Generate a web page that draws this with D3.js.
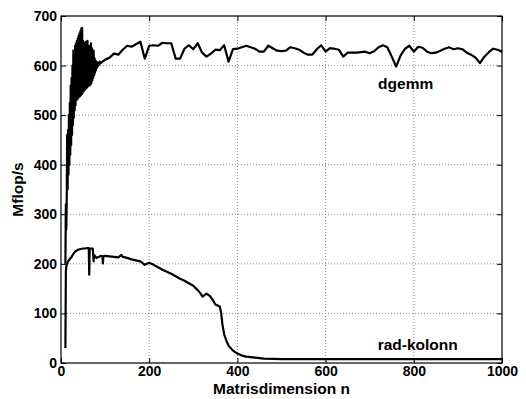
<!DOCTYPE html>
<html lang="sv">
<head>
    <meta charset="UTF-8">
    <title>Mflop/s mot matrisdimension</title>
    <script src="https://d3js.org/d3.v7.min.js"></script>
    <style>
        body {
            margin: 0;
            padding: 0;
            background: #fff;
        }
        svg text {
            font-family: "Liberation Sans", Arial, Helvetica, sans-serif;
            font-weight: bold;
            fill: #000;
        }
    </style>
</head>
<body>
    <div id="chart"></div>

    <script>
        // dgemm: tät start (n = 10..90), sedan var tionde n
        const dgemmN = [
            10, 11, 12, 13, 14, 15, 16, 17, 18, 19, 20, 21, 22, 23, 24, 25, 26, 27, 28, 29,
            30, 31, 32, 33, 34, 35, 36, 37, 38, 39, 40, 41, 42, 43, 44, 45, 46, 47, 48, 49,
            50, 51, 52, 53, 54, 55, 56, 57, 58, 59, 60, 61, 62, 63, 64, 65, 66, 67, 68, 69,
            70, 71, 72, 73, 74, 75, 76, 77, 78, 79, 80, 81, 82, 83, 84, 85, 86, 87, 88, 89,
            90, 100, 110, 120, 130, 140, 150, 160, 170, 180, 190, 200, 210, 220, 230, 240,
            250, 260, 270, 280, 290, 300, 310, 320, 330, 340, 350, 360, 370, 380, 390, 400,
            410, 420, 430, 440, 450, 460, 470, 480, 490, 500, 510, 520, 530, 540, 550, 560,
            570, 580, 590, 600, 610, 620, 630, 640, 650, 660, 670, 680, 690, 700, 710, 720,
            730, 740, 750, 760, 770, 780, 790, 800, 810, 820, 830, 840, 850, 860, 870, 880,
            890, 900, 910, 920, 930, 940, 950, 960, 970, 980, 990, 1000
        ];
        const dgemmMflops = [
            200, 320, 270, 330, 460, 350, 470, 380, 500, 400, 525, 420, 560, 440, 575, 460, 600, 480, 630, 495,
            625, 510, 640, 520, 645, 530, 650, 532, 655, 535, 660, 537, 665, 538, 670, 540, 675, 542, 676, 545,
            650, 548, 630, 550, 645, 552, 648, 554, 640, 556, 650, 558, 630, 560, 640, 560, 620, 562, 645, 565,
            635, 570, 625, 575, 630, 580, 615, 585, 610, 590, 608, 595, 605, 598, 606, 600, 604, 602, 608, 605,
            605, 612, 616, 624, 622, 632, 640, 638, 643, 648, 614, 640, 641, 640, 646, 645,
            645, 614, 614, 634, 641, 633, 645, 626, 618, 624, 632, 631, 641, 608, 633, 634,
            637, 640, 637, 634, 628, 628, 640, 635, 630, 629, 630, 637, 635, 632, 626, 622,
            622, 633, 641, 628, 635, 634, 632, 618, 626, 626, 626, 627, 628, 625, 629, 637,
            641, 637, 618, 598, 620, 634, 640, 628, 638, 636, 628, 625, 626, 630, 634, 637,
            633, 635, 633, 626, 622, 616, 605, 618, 627, 634, 632, 628
        ];

        // rad-kolonn
        const radN = [
            10, 11, 12, 14, 16, 20, 24, 28, 32, 36, 40, 45, 50, 55, 60, 63, 64, 65, 68, 70,
            72, 74, 75, 80, 85, 90, 94, 95, 96, 100, 110, 120, 130, 137, 140, 150, 160, 170, 180, 190,
            200, 210, 220, 230, 240, 250, 260, 270, 280, 290, 300, 310, 315, 321, 330, 338, 345, 350, 360, 363,
            366, 370, 375, 380, 390, 400, 410, 420, 440, 460, 480, 500, 550, 600, 650, 700, 750, 800, 850, 900,
            950, 1000
        ];
        const radMflops = [
            30, 185, 195, 200, 205, 210, 214, 220, 225, 227, 229, 230, 231, 231, 232, 232, 178, 230, 231, 231,
            231, 205, 218, 212, 214, 216, 215, 201, 215, 216, 215, 214, 213, 218, 214, 212, 209, 207, 205, 198,
            202, 198, 193, 188, 184, 180, 175, 170, 166, 161, 156, 147, 142, 134, 140, 135, 126, 118, 114, 102,
            78, 58, 45, 35, 25, 19, 15, 13, 11, 9, 8.5, 8, 8, 8, 8, 8, 8, 8, 8, 8,
            8, 8
        ];

        const xTicks = [0, 200, 400, 600, 800, 1000];
        const yTicks = [0, 100, 200, 300, 400, 500, 600, 700];

        const width = 526, height = 399;
        const margin = {top: 16, right: 24, bottom: 36, left: 61};
        const plotW = width - margin.left - margin.right;
        const plotH = height - margin.top - margin.bottom;

        const svg = d3.select('#chart')
            .append('svg')
            .attr('width', width)
            .attr('height', height);

        const g = svg.append('g')
            .attr('transform', `translate(${margin.left},${margin.top})`);

        const x = d3.scaleLinear().domain([0, 1000]).range([0, plotW]);
        const y = d3.scaleLinear().domain([0, 700]).range([plotH, 0]);

        // rutnät (prickat)
        const grid = g.append('g').attr('class', 'grid');
        grid.selectAll('line.vx')
            .data(xTicks.slice(1, -1))
            .enter().append('line')
            .attr('x1', d => x(d)).attr('x2', d => x(d))
            .attr('y1', 0).attr('y2', plotH);
        grid.selectAll('line.hy')
            .data(yTicks.slice(1, -1))
            .enter().append('line')
            .attr('x1', 0).attr('x2', plotW)
            .attr('y1', d => y(d)).attr('y2', d => y(d));
        grid.selectAll('line')
            .attr('stroke', '#8a8a8a')
            .attr('stroke-width', 1)
            .attr('stroke-dasharray', '1,2');

        // kurvor
        const line = d3.line()
            .x(d => x(d[0]))
            .y(d => y(d[1]));

        const series = [
            d3.zip(dgemmN, dgemmMflops),
            d3.zip(radN, radMflops)
        ];
        g.selectAll('path.curve')
            .data(series)
            .enter().append('path')
            .attr('class', 'curve')
            .attr('d', line)
            .attr('fill', 'none')
            .attr('stroke', '#000')
            .attr('stroke-width', 2.2)
            .attr('stroke-linejoin', 'round');

        // axlar, streck inåt
        const tick = 5;
        const fmt = d3.format('d');
        g.append('g')
            .attr('transform', `translate(0,${plotH})`)
            .call(d3.axisBottom(x).tickValues(xTicks).tickFormat(fmt).tickSize(-tick).tickPadding(3));
        g.append('g')
            .call(d3.axisLeft(y).tickValues(yTicks).tickFormat(fmt).tickSize(-tick).tickPadding(4));
        g.append('g')
            .call(d3.axisTop(x).tickValues(xTicks).tickSize(-tick).tickFormat(''));
        g.append('g')
            .attr('transform', `translate(${plotW},0)`)
            .call(d3.axisRight(y).tickValues(yTicks).tickSize(-tick).tickFormat(''));

        g.selectAll('.domain').remove();
        g.selectAll('.tick line').attr('stroke', '#000');
        g.selectAll('.tick text')
            .attr('fill', '#000')
            .style('font-size', '14px')
            .style('font-family', '"Liberation Sans", Arial, sans-serif')
            .style('font-weight', 'bold');

        // ram
        g.append('rect')
            .attr('x', 0).attr('y', 0)
            .attr('width', plotW).attr('height', plotH)
            .attr('fill', 'none')
            .attr('stroke', '#000')
            .attr('stroke-width', 1.2);

        // axeltitlar
        svg.append('text')
            .attr('x', margin.left + plotW / 2)
            .attr('y', 394)
            .attr('text-anchor', 'middle')
            .style('font-size', '15.5px')
            .text('Matrisdimension n');

        svg.append('text')
            .attr('transform', `translate(23,${margin.top + plotH / 2}) rotate(-90)`)
            .attr('text-anchor', 'middle')
            .style('font-size', '15.5px')
            .text('Mflop/s');

        // kurvetiketter
        g.append('text')
            .attr('x', x(719))
            .attr('y', y(552))
            .style('font-size', '15.5px')
            .text('dgemm');

        g.append('text')
            .attr('x', x(718))
            .attr('y', y(27))
            .style('font-size', '15.5px')
            .text('rad-kolonn');
    </script>
</body>
</html>
